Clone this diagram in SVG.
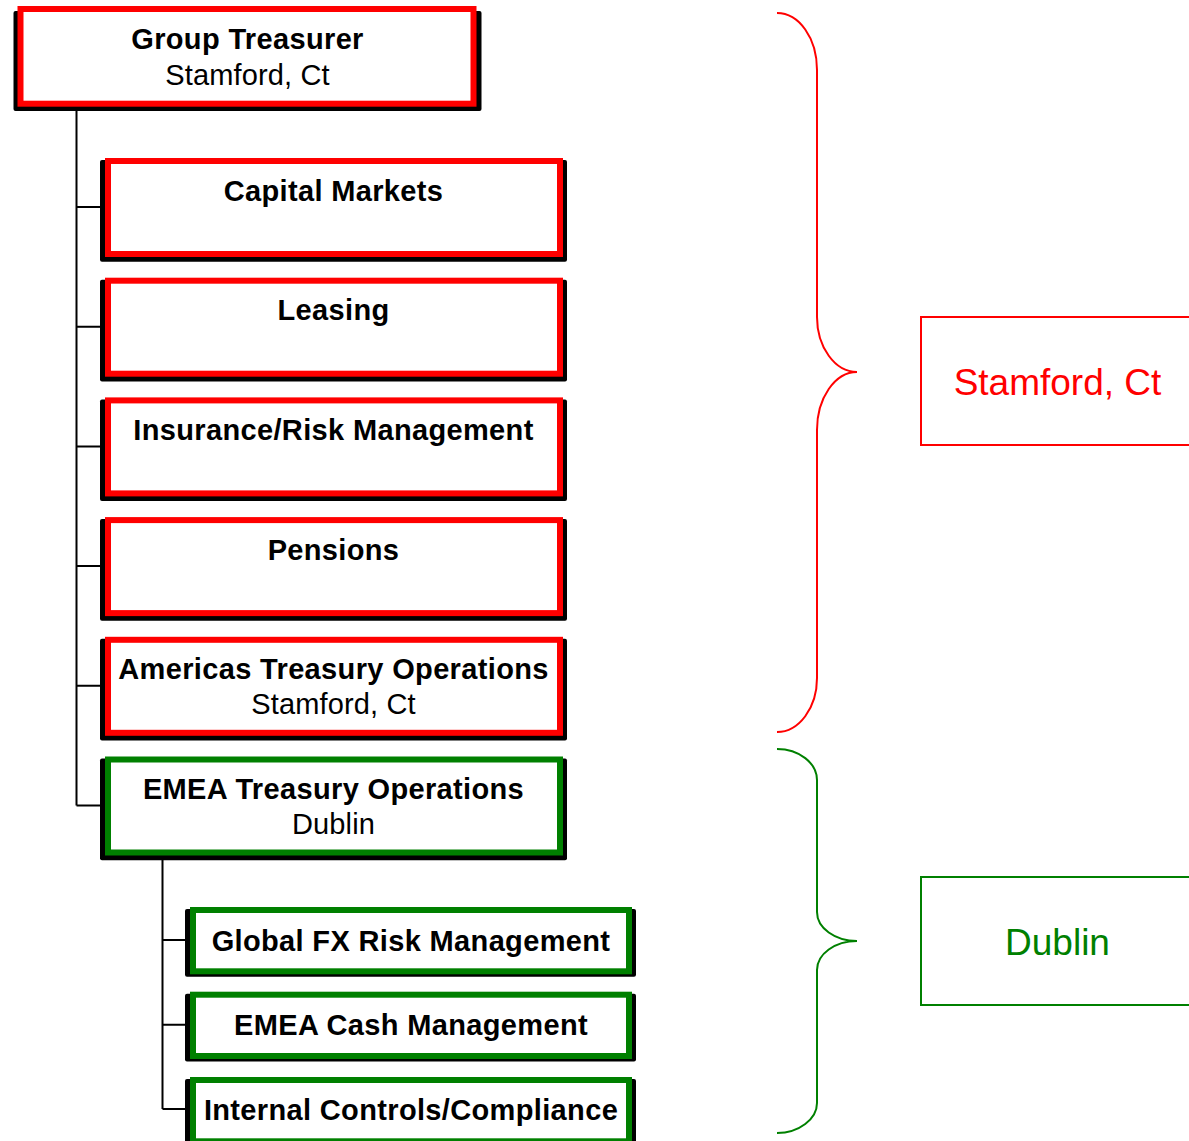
<svg xmlns="http://www.w3.org/2000/svg" width="1189" height="1141" viewBox="0 0 1189 1141">
  <style>
    .shadow { fill: #000000; }
    .red { fill: #ffffff; stroke: #ff0000; stroke-width: 6; }
    .green { fill: #ffffff; stroke: #008000; stroke-width: 6; }
    .title { font-family: "Liberation Sans", Arial, sans-serif; font-size: 29px; font-weight: bold; letter-spacing: 0.35px; fill: #000000; text-anchor: middle; }
    .sub { font-family: "Liberation Sans", Arial, sans-serif; font-size: 29px; letter-spacing: 0.15px; fill: #000000; text-anchor: middle; }
    .link { fill: none; stroke: #000000; stroke-width: 2; }
    .brace { fill: none; stroke-width: 2; }
    .loc { font-family: "Liberation Sans", Arial, sans-serif; font-size: 37px; text-anchor: middle; }
  </style>
  <rect width="1189" height="1141" fill="#ffffff"/>

  <!-- connectors -->
  <g id="connectors">
    <path class="link" d="M76.5,111 V805.5 M76.5,207 H100 M76.5,326.7 H100 M76.5,446.4 H100 M76.5,566.1 H100 M76.5,685.8 H100 M76.5,805.5 H100"/>
    <path class="link" d="M162.5,860 V1109 M162.5,940 H185 M162.5,1024.7 H185 M162.5,1109 H185"/>
  </g>

  <!-- top level -->
  <g id="group-treasurer">
    <rect class="shadow" x="13.5" y="11" width="468" height="100" rx="2"/>
    <rect class="red" x="20.5" y="9" width="453" height="94.7"/>
    <text class="title" x="247.5" y="48.5">Group Treasurer</text>
    <text class="sub" x="247.5" y="84.5">Stamford, Ct</text>
  </g>

  <!-- Stamford reports -->
  <g id="capital-markets">
    <rect class="shadow" x="100" y="160" width="467" height="101.7" rx="2"/>
    <rect class="red" x="108" y="161" width="452" height="93"/>
    <text class="title" x="333.5" y="200.5">Capital Markets</text>
  </g>
  <g id="leasing">
    <rect class="shadow" x="100" y="279.7" width="467" height="101.7" rx="2"/>
    <rect class="red" x="108" y="280.7" width="452" height="93"/>
    <text class="title" x="333.5" y="320.2">Leasing</text>
  </g>
  <g id="insurance-risk">
    <rect class="shadow" x="100" y="399.4" width="467" height="101.7" rx="2"/>
    <rect class="red" x="108" y="400.4" width="452" height="93"/>
    <text class="title" x="333.5" y="439.9">Insurance/Risk Management</text>
  </g>
  <g id="pensions">
    <rect class="shadow" x="100" y="519.1" width="467" height="101.7" rx="2"/>
    <rect class="red" x="108" y="520.1" width="452" height="93"/>
    <text class="title" x="333.5" y="559.6">Pensions</text>
  </g>
  <g id="americas-treasury-ops">
    <rect class="shadow" x="100" y="638.8" width="467" height="101.7" rx="2"/>
    <rect class="red" x="108" y="639.8" width="452" height="93"/>
    <text class="title" x="333.5" y="679.3">Americas Treasury Operations</text>
    <text class="sub" x="333.5" y="714">Stamford, Ct</text>
  </g>

  <!-- Dublin branch -->
  <g id="emea-treasury-ops">
    <rect class="shadow" x="100" y="758.5" width="467" height="101.7" rx="2"/>
    <rect class="green" x="108" y="759.5" width="452" height="93"/>
    <text class="title" x="333.5" y="799">EMEA Treasury Operations</text>
    <text class="sub" x="333.5" y="834">Dublin</text>
  </g>
  <g id="global-fx-risk">
    <rect class="shadow" x="185" y="909" width="451" height="67.7" rx="2"/>
    <rect class="green" x="193" y="910" width="436" height="61.3"/>
    <text class="title" x="411" y="950.5">Global FX Risk Management</text>
  </g>
  <g id="emea-cash">
    <rect class="shadow" x="185" y="993.7" width="451" height="67.7" rx="2"/>
    <rect class="green" x="193" y="994.7" width="436" height="61.3"/>
    <text class="title" x="411" y="1035.2">EMEA Cash Management</text>
  </g>
  <g id="internal-controls">
    <rect class="shadow" x="185" y="1079" width="451" height="67.7" rx="2"/>
    <rect class="green" x="193" y="1080" width="436" height="61.3"/>
    <text class="title" x="411" y="1120">Internal Controls/Compliance</text>
  </g>

  <!-- location braces and labels -->
  <g id="stamford-location">
    <path class="brace" stroke="#ff0000" d="M777,13 C799,13 817,38 817,70 L817,317 C817,347 835,372 857,372 C835,372 817,398 817,430 L817,678 C817,708 799,732 777,732"/>
    <rect x="921" y="317" width="273" height="128" fill="none" stroke="#ff0000" stroke-width="2"/>
    <text class="loc" x="1057.5" y="395" fill="#ff0000">Stamford, Ct</text>
  </g>
  <g id="dublin-location">
    <path class="brace" stroke="#008000" d="M777,749 C799,749 817,763 817,780 L817,912 C817,928 835,941 857,941 C835,941 817,954 817,970 L817,1103 C817,1119 799,1133 777,1133"/>
    <rect x="921" y="877" width="273" height="128" fill="none" stroke="#008000" stroke-width="2"/>
    <text class="loc" x="1057.5" y="955" fill="#008000">Dublin</text>
  </g>
</svg>
